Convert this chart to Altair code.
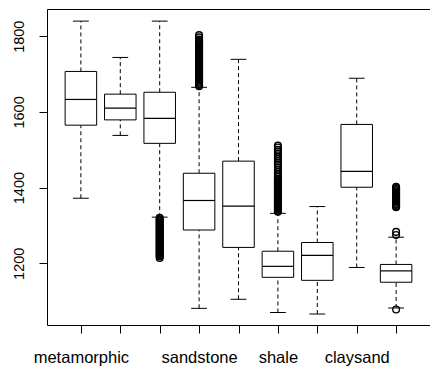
import json
import altair as alt
import pandas as pd

# ---- data ----
positions = [1, 2, 3, 4, 5, 6, 7, 8, 9]
tick_labels = ["metamorphic", "", "", "sandstone", "", "shale", "", "claysand", ""]
whisker_lo = [1372, 1538, 1322, 1081, 1105, 1070, 1066, 1189, 1082]
q1 = [1565, 1579, 1517, 1288, 1242, 1163, 1155, 1401, 1150]
median = [1633, 1610, 1583, 1366, 1351, 1192, 1221, 1443, 1180]
q3 = [1707, 1647, 1652, 1438, 1470, 1232, 1255, 1567, 1197]
whisker_hi = [1840, 1744, 1840, 1665, 1739, 1332, 1350, 1689, 1269]

outliers_3 = [1320, 1317, 1314, 1311, 1308, 1305, 1302, 1299, 1296, 1293, 1290,
              1287, 1284, 1281, 1278, 1275, 1272, 1269, 1266, 1263, 1260, 1257,
              1254, 1251, 1248, 1245, 1242, 1239, 1236, 1233, 1230, 1227, 1224,
              1221, 1218, 1214]
outliers_4 = [1803, 1797, 1791, 1788, 1785, 1782, 1779, 1776, 1773, 1770, 1767,
              1764, 1761, 1758, 1755, 1752, 1749, 1746, 1743, 1740, 1737, 1734,
              1731, 1728, 1725, 1722, 1719, 1716, 1713, 1710, 1707, 1704, 1701,
              1698, 1695, 1692, 1689, 1686, 1683, 1680, 1677, 1674, 1671, 1668]
outliers_6 = [1511, 1506, 1500, 1495, 1489, 1482, 1476, 1470, 1465, 1460, 1454,
              1447, 1441, 1435, 1429, 1423, 1420, 1417, 1414, 1411, 1408, 1405,
              1402, 1399, 1396, 1393, 1390, 1387, 1384, 1381, 1378, 1375, 1372,
              1369, 1366, 1363, 1360, 1357, 1354, 1351, 1348, 1345, 1342, 1339,
              1336]
outliers_9 = [1402, 1399, 1396, 1393, 1390, 1387, 1384, 1381, 1378, 1375, 1372,
              1369, 1366, 1363, 1360, 1357, 1354, 1351, 1348, 1283, 1275, 1078]

stats = pd.DataFrame({
    "pos": positions, "lo": whisker_lo, "q1": q1, "med": median,
    "q3": q3, "hi": whisker_hi,
})
out_rows = []
for p, vals in [(3, outliers_3), (4, outliers_4), (6, outliers_6), (9, outliers_9)]:
    for v in vals:
        out_rows.append({"pos": p, "value": v})
outs = pd.DataFrame(out_rows)

FONT = "Liberation Sans"
xs = alt.Scale(domain=[0.14, 9.86], nice=False, zero=False)
ys = alt.Scale(domain=[1037, 1872], nice=False, zero=False)

label_expr = json.dumps(tick_labels) + "[datum.value - 1]"
xaxis = alt.Axis(values=positions, labelExpr=label_expr, tickSize=8, tickColor="black",
                 labelColor="black", labelFont=FONT, labelFontSize=16.5, labelPadding=16,
                 labelFlush=False, labelOverlap=False, domain=False, grid=False, title=None)
yaxis = alt.Axis(values=[1200, 1400, 1600, 1800], format="d", tickSize=8, tickColor="black",
                 labelColor="black", labelFont=FONT, labelFontSize=14.5, labelAngle=270,
                 labelAlign="center", labelBaseline="bottom", labelPadding=13,
                 labelFlush=False, labelOverlap=False, domain=False, grid=False, title=None)


def X(f):
    return alt.X(f, type="quantitative", scale=xs, axis=xaxis)


def Y(f):
    return alt.Y(f, type="quantitative", scale=ys, axis=yaxis)


base = alt.Chart(stats).transform_calculate(
    xl="datum.pos - 0.4", xr="datum.pos + 0.4",
    cl="datum.pos - 0.2", cr="datum.pos + 0.2",
)

dash = [4, 3]
wh_up = base.mark_rule(color="black", strokeWidth=1, strokeDash=dash).encode(
    x=X("pos"), y=Y("q3"), y2="hi:Q")
wh_dn = base.mark_rule(color="black", strokeWidth=1, strokeDash=dash).encode(
    x=X("pos"), y=Y("lo"), y2="q1:Q")
cap_up = base.mark_rule(color="black", strokeWidth=1).encode(
    x=X("cl"), x2="cr:Q", y=Y("hi"))
cap_dn = base.mark_rule(color="black", strokeWidth=1).encode(
    x=X("cl"), x2="cr:Q", y=Y("lo"))
box = base.mark_rect(fill="white", stroke="black", strokeWidth=1).encode(
    x=X("xl"), x2="xr:Q", y=Y("q1"), y2="q3:Q")
med = base.mark_rule(color="black", strokeWidth=1.2).encode(
    x=X("xl"), x2="xr:Q", y=Y("med"))
pts = alt.Chart(outs).mark_point(shape="circle", filled=False, size=45, stroke="black",
                                 strokeWidth=1.4, opacity=1).encode(
    x=X("pos"), y=Y("value"))

chart = alt.layer(wh_up, wh_dn, cap_up, cap_dn, box, med, pts).properties(
    width=383, height=316,
    autosize=alt.AutoSizeParams(type="none"),
    padding={"left": 39, "top": 1, "right": 0, "bottom": 42},
    background="white",
).configure_view(stroke="black", strokeWidth=1)

chart.save("out.html", embed_options={"renderer": "svg", "actions": False})
